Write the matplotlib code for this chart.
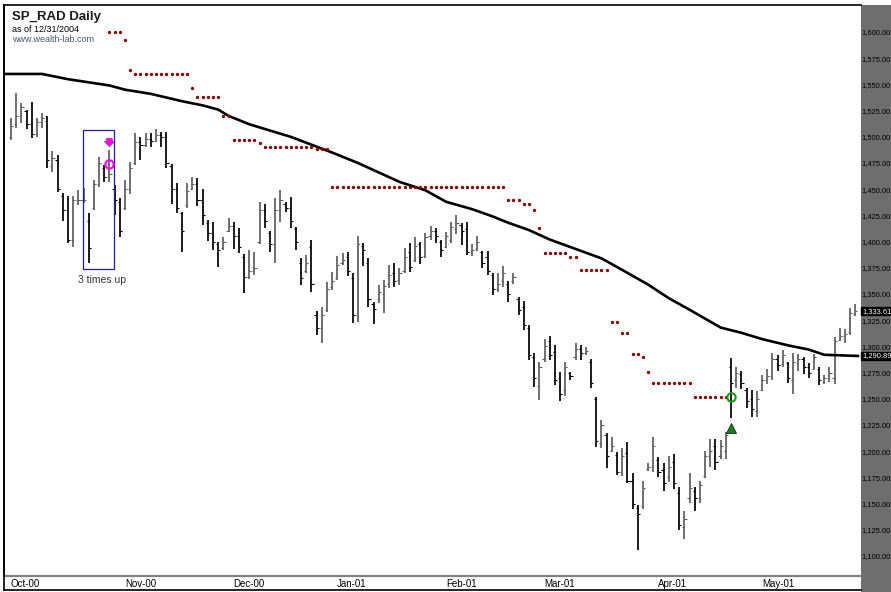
import matplotlib
matplotlib.use('Agg')
import matplotlib.pyplot as plt
import matplotlib.transforms as mtransforms
from matplotlib.patches import Rectangle
from matplotlib.lines import Line2D
from matplotlib import font_manager

plt.rcParams['font.family'] = ['Liberation Sans', 'DejaVu Sans']


def _has_font(name):
    try:
        font_manager.findfont(font_manager.FontProperties(family=name),
                              fallback_to_default=False)
        return True
    except Exception:
        return False


if _has_font('Liberation Sans Narrow'):
    AXIS_FAMILY, AXIS_SIZE = ['Liberation Sans Narrow'], 6.3
elif _has_font('DejaVu Sans Condensed'):
    AXIS_FAMILY, AXIS_SIZE = ['DejaVu Sans Condensed'], 5.6
else:
    AXIS_FAMILY, AXIS_SIZE = ['Liberation Sans', 'DejaVu Sans'], 5.4

# ---------------- data ----------------
highs = [1518, 1542, 1532, 1526, 1533, 1518, 1523, 1520, 1486, 1483,
         1446, 1444, 1444, 1449, 1451, 1427, 1459, 1481, 1473, 1487,
         1454, 1442, 1459, 1476, 1504, 1500, 1504, 1504, 1507, 1505,
         1505, 1474, 1456, 1428, 1456, 1462, 1461, 1450, 1421, 1419,
         1400, 1404, 1423, 1419, 1413, 1388, 1392, 1390, 1438, 1436,
         1410, 1442, 1449, 1438, 1443, 1414, 1384, 1387, 1402, 1334,
         1338, 1361, 1371, 1386, 1389, 1390, 1370, 1405, 1399, 1384,
         1342, 1359, 1363, 1378, 1380, 1375, 1394, 1399, 1404, 1400,
         1408, 1415, 1413, 1402, 1409, 1419, 1425, 1418, 1419, 1398,
         1405, 1391, 1391, 1370, 1370, 1377, 1362, 1370, 1347, 1343,
         1320, 1294, 1285, 1307, 1310, 1301, 1276, 1285, 1276, 1303,
         1301, 1299, 1288, 1252, 1230, 1217, 1214, 1199, 1203, 1209,
         1179, 1149, 1172, 1189, 1214, 1194, 1189, 1195, 1197, 1166,
         1143, 1179, 1166, 1172, 1200, 1212, 1212, 1211, 1218, 1289,
         1280, 1277, 1260, 1258, 1257, 1273, 1278, 1294, 1292, 1297,
         1285, 1294, 1293, 1290, 1284, 1293, 1280, 1273, 1280, 1309,
         1318, 1317, 1337, 1340]
lows = [1497, 1508, 1513, 1507, 1499, 1500, 1508, 1470, 1466, 1447,
        1420, 1399, 1395, 1435, 1437, 1380, 1430, 1452, 1457, 1457,
        1425, 1404, 1430, 1445, 1473, 1478, 1490, 1490, 1495, 1490,
        1470, 1436, 1427, 1390, 1432, 1449, 1434, 1416, 1401, 1392,
        1376, 1392, 1409, 1393, 1389, 1351, 1364, 1368, 1398, 1413,
        1390, 1380, 1419, 1428, 1413, 1392, 1359, 1370, 1352, 1311,
        1303, 1333, 1354, 1363, 1378, 1367, 1322, 1323, 1377, 1338,
        1321, 1341, 1332, 1356, 1357, 1359, 1370, 1371, 1381, 1379,
        1384, 1402, 1399, 1385, 1394, 1399, 1407, 1397, 1387, 1386,
        1391, 1375, 1368, 1349, 1352, 1357, 1342, 1360, 1330, 1316,
        1287, 1261, 1249, 1285, 1287, 1263, 1248, 1253, 1268, 1287,
        1287, 1292, 1260, 1204, 1203, 1184, 1199, 1177, 1176, 1170,
        1145, 1106, 1145, 1181, 1180, 1175, 1162, 1171, 1164, 1125,
        1116, 1151, 1143, 1151, 1174, 1185, 1182, 1193, 1193, 1232,
        1260, 1259, 1241, 1233, 1233, 1257, 1264, 1268, 1277, 1280,
        1265, 1255, 1277, 1274, 1270, 1278, 1263, 1264, 1266, 1264,
        1305, 1303, 1311, 1329]
opens = [1500, 1512, 1520, 1525, 1512, 1503, 1514, 1515, 1472, 1478,
         1444, 1430, 1402, 1440, 1440, 1420, 1432, 1455, 1470, 1462,
         1450, 1438, 1432, 1450, 1475, 1495, 1492, 1498, 1496, 1502,
         1500, 1472, 1450, 1427, 1435, 1450, 1455, 1440, 1418, 1408,
         1398, 1394, 1410, 1415, 1405, 1385, 1366, 1372, 1400, 1430,
         1408, 1398, 1430, 1436, 1432, 1412, 1380, 1372, 1395, 1330,
         1318, 1335, 1357, 1365, 1380, 1385, 1365, 1330, 1396, 1380,
         1340, 1345, 1350, 1360, 1370, 1363, 1372, 1390, 1382, 1398,
         1386, 1405, 1410, 1400, 1395, 1402, 1412, 1416, 1412, 1390,
         1393, 1390, 1385, 1368, 1355, 1362, 1360, 1362, 1345, 1338,
         1318, 1290, 1262, 1288, 1305, 1295, 1270, 1258, 1275, 1290,
         1298, 1294, 1285, 1250, 1208, 1215, 1200, 1196, 1180, 1198,
         1172, 1146, 1148, 1183, 1185, 1192, 1182, 1175, 1190, 1160,
         1128, 1155, 1162, 1155, 1176, 1195, 1205, 1195, 1200, 1280,
         1268, 1274, 1258, 1250, 1238, 1258, 1268, 1272, 1288, 1283,
         1284, 1268, 1284, 1288, 1280, 1278, 1278, 1266, 1270, 1270,
         1306, 1310, 1314, 1331]
closes = [1510, 1520, 1528, 1512, 1503, 1514, 1518, 1478, 1480, 1450,
          1430, 1402, 1440, 1440, 1440, 1394, 1455, 1475, 1462, 1465,
          1440, 1410, 1450, 1470, 1495, 1492, 1498, 1496, 1502, 1500,
          1475, 1450, 1432, 1410, 1448, 1455, 1440, 1425, 1408, 1400,
          1392, 1400, 1415, 1405, 1395, 1366, 1372, 1375, 1430, 1420,
          1398, 1430, 1440, 1432, 1420, 1400, 1365, 1380, 1360, 1318,
          1330, 1355, 1362, 1378, 1382, 1372, 1330, 1398, 1392, 1345,
          1336, 1352, 1358, 1368, 1362, 1370, 1385, 1376, 1396, 1385,
          1404, 1410, 1405, 1392, 1405, 1414, 1418, 1410, 1390, 1392,
          1400, 1380, 1372, 1355, 1360, 1370, 1350, 1366, 1335, 1320,
          1292, 1270, 1280, 1300, 1292, 1268, 1255, 1280, 1272, 1298,
          1294, 1296, 1265, 1210, 1225, 1195, 1205, 1180, 1195, 1172,
          1150, 1140, 1165, 1185, 1205, 1180, 1170, 1185, 1170, 1130,
          1135, 1165, 1155, 1168, 1195, 1200, 1190, 1205, 1215, 1265,
          1275, 1265, 1248, 1240, 1250, 1268, 1272, 1288, 1282, 1292,
          1270, 1285, 1288, 1280, 1275, 1290, 1268, 1270, 1275, 1305,
          1310, 1312, 1332, 1333.61]

month_labels = ['Oct-00', 'Nov-00', 'Dec-00', 'Jan-01', 'Feb-01', 'Mar-01', 'Apr-01', 'May-01']
month_start_bars = [0, 22, 43, 63, 84, 103, 125, 145]

stop_first_bar = 19
stop_values = [1600, 1600, 1600, 1592, 1564,
               1560, 1560, 1560, 1560, 1560, 1560, 1560, 1560, 1560, 1560, 1560,
               1547, 1538, 1538, 1538, 1538, 1538, 1520, 1520,
               1497, 1497, 1497, 1497, 1497, 1494,
               1490, 1490, 1490, 1490, 1490, 1490, 1490, 1490, 1490, 1490,
               1488, 1488, 1488,
               1452, 1452, 1452, 1452, 1452, 1452, 1452, 1452, 1452, 1452,
               1452, 1452, 1452, 1452, 1452, 1452, 1452, 1452, 1452, 1452,
               1452, 1452, 1452, 1452, 1452, 1452, 1452, 1452, 1452, 1452,
               1452, 1452, 1452, 1452,
               1440, 1440, 1440, 1436, 1436, 1430, 1413,
               1389, 1389, 1389, 1389, 1389, 1385, 1385,
               1373, 1373, 1373, 1373, 1373, 1373,
               1323, 1323, 1313, 1313, 1293, 1293, 1290, 1276,
               1265, 1265, 1265, 1265, 1265, 1265, 1265, 1265,
               1252, 1252, 1252, 1252, 1252, 1252, 1252]

ma_bars = [-1.3, 6, 11, 19, 22, 27, 33, 37, 40, 42, 46, 50, 54, 62, 67, 71, 75, 80,
           84, 89, 93, 96, 100, 104, 109, 114, 118, 123, 127, 131, 137, 141, 145,
           150, 154, 157, 163.5]
ma_values = [1560, 1560, 1555, 1549, 1545, 1541, 1534, 1530, 1526, 1520, 1512, 1506,
             1500, 1485, 1475, 1466, 1457, 1449, 1438, 1431, 1424, 1418, 1411, 1402,
             1393, 1384, 1373, 1359, 1346, 1335, 1318, 1313, 1307, 1301, 1297, 1292,
             1290.89]

price_ticks = [1100, 1125, 1150, 1175, 1200, 1225, 1250, 1275, 1300, 1325, 1350,
               1375, 1400, 1425, 1450, 1475, 1500, 1525, 1550, 1575, 1600]
last_close = 1333.61
last_ma = 1290.89

short_bar, short_price = 19, 1474
buy_bar, buy_price, buy_marker_price = 139, 1252, 1222

# ---------------- figure ----------------
W, H = 891, 592
fig = plt.figure(figsize=(W / 100, H / 100), dpi=100)
fig.patch.set_facecolor('white')

ax = fig.add_axes([4 / W, 16 / H, 857 / W, 571 / H])
ax.set_xlim(-1.35, 164.1)
ax.set_ylim(1080.9, 1625.8)

# right gray price panel
fig.add_artist(Rectangle((861 / W, 0), 30 / W, 587 / H, transform=fig.transFigure,
                         facecolor='#6e6e6e', edgecolor='none', zorder=-1))
# outer border lines
fig.add_artist(Line2D([4 / W, 4 / W], [2 / H, 587 / H], transform=fig.transFigure,
                      color='black', lw=1.2))
fig.add_artist(Line2D([4 / W, 861 / W], [2 / H, 2 / H], transform=fig.transFigure,
                      color='black', lw=1.2))

for s in ['left', 'top']:
    ax.spines[s].set_color('black')
    ax.spines[s].set_linewidth(1.2)
ax.spines['right'].set_visible(False)
ax.spines['bottom'].set_color('#808080')
ax.spines['bottom'].set_linewidth(1.6)

# OHLC bars
n = len(highs)
idx = list(range(n))
cols = ['black' if c < o else '#5e5e5e' for o, c in zip(opens, closes)]
ax.vlines(idx, lows, highs, colors=cols, linewidth=1.25, zorder=3)
ax.hlines(opens, [i - 0.42 for i in idx], idx, colors=cols, linewidth=0.8, zorder=3)
ax.hlines(closes, idx, [i + 0.42 for i in idx], colors=cols, linewidth=0.8, zorder=3)

# moving average
ax.plot(ma_bars, ma_values, color='black', lw=1.9, solid_joinstyle='round', zorder=4)

# trailing stop dots
stop_x = [stop_first_bar + k for k in range(len(stop_values))]
ax.plot(stop_x, stop_values, linestyle='none', marker='o', ms=2.4, mew=0,
        color='#8a0000', zorder=5)

# annotations
ax.add_patch(Rectangle((13.9, 1373.9), 6.0, 132.6, fill=False,
                       edgecolor='#1c1ca8', lw=0.9, zorder=6))
ax.text(17.6, 1363.0, '3 times up', ha='center', va='center', fontsize=7.5,
        color='#333333')
ax.annotate('', xy=(19, 1488), xytext=(19, 1501),
            arrowprops=dict(arrowstyle='simple,head_width=1.2,head_length=0.6,tail_width=0.7',
                            mutation_scale=6, fc='#ff00ff', ec='#a000a0', lw=0.4),
            zorder=7)
ax.plot(short_bar, short_price, marker='o', ms=6, mfc='none', mec='#ff00ff',
        mew=1.5, zorder=7)
ax.plot(buy_bar, buy_price, marker='o', ms=6, mfc='none', mec='#129a12',
        mew=1.5, zorder=7)
ax.plot(buy_bar, buy_marker_price, marker='^', ms=7, mfc='#1f7a1f',
        mec='#0b300b', mew=0.6, zorder=7)

# axes ticks
ax.yaxis.tick_right()
ax.set_yticks(price_ticks)
ax.set_yticklabels([f'{v:,.2f}' for v in price_ticks])
ax.tick_params(axis='y', length=0, pad=0.5, labelsize=AXIS_SIZE, labelcolor='black')
for t in ax.get_yticklabels():
    t.set_family(AXIS_FAMILY)
ax.set_xticks(month_start_bars)
ax.set_xticklabels(month_labels)
ax.tick_params(axis='x', length=0, pad=2.0, labelsize=7, labelcolor='black')
for t in ax.get_xticklabels():
    t.set_ha('left')

# highlighted last values
bt = mtransforms.blended_transform_factory(ax.transAxes, ax.transData)
for v in (last_close, last_ma):
    ax.text(1.0 + 1.0 / 857, v, f'{v:,.2f}', transform=bt, ha='left', va='center',
            fontsize=AXIS_SIZE, family=AXIS_FAMILY, color='white', clip_on=False,
            zorder=10, bbox=dict(boxstyle='square,pad=0.1', fc='black', ec='black'))

# header texts
fig.text(12 / W, 1 - 17 / H, 'SP_RAD Daily', fontsize=9.5, fontweight='bold',
         color='#1a1a1a', va='center', ha='left')
fig.text(12 / W, 1 - 29 / H, 'as of 12/31/2004', fontsize=6.5, color='black',
         va='center', ha='left')
fig.text(12 / W, 1 - 40 / H, 'www.wealth-lab.com', fontsize=6.5, color='#4a587a',
         va='center', ha='left')

fig.savefig('out.png', dpi=100, facecolor='white')
